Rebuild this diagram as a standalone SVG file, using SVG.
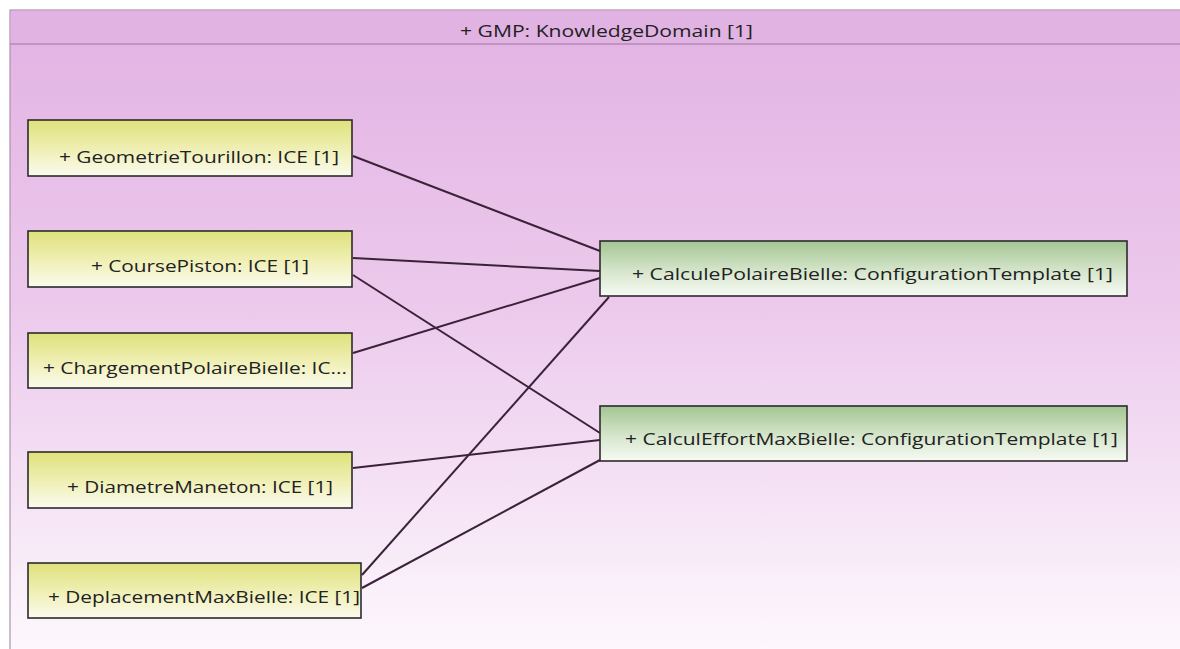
<svg xmlns="http://www.w3.org/2000/svg" width="1180" height="649" viewBox="0 0 1180 649">
<defs>
<linearGradient id="bg" x1="0" y1="0" x2="0" y2="1">
<stop offset="0" stop-color="#e2b2e3"/>
<stop offset="0.45" stop-color="#ecc9ec"/>
<stop offset="1" stop-color="#fdf9fd"/>
</linearGradient>
<linearGradient id="yel" x1="0" y1="0" x2="0" y2="1">
<stop offset="0" stop-color="#dfe17a"/>
<stop offset="0.55" stop-color="#f0f0b8"/>
<stop offset="1" stop-color="#fbfbee"/>
</linearGradient>
<linearGradient id="grn" x1="0" y1="0" x2="0" y2="1">
<stop offset="0" stop-color="#a3c592"/>
<stop offset="0.55" stop-color="#d6e6cc"/>
<stop offset="1" stop-color="#f7faf4"/>
</linearGradient>
<style>
.box{stroke:#2b2b2b;stroke-width:1.6}
.t{font-family:"Open Sans","Noto Sans","DejaVu Sans",sans-serif;font-size:16.5px;fill:#222}
.c{stroke:#3a2238;stroke-width:2;fill:none}
</style>
</defs>
<rect width="1180" height="649" fill="#ffffff"/>
<g id="container">
<rect x="10" y="10" width="1180" height="650" fill="url(#bg)" stroke="#b08fb0" stroke-width="1.2"/>
<rect x="10.6" y="10.6" width="1180" height="33.4" fill="#e1b3e3"/>
<line x1="10" y1="44" x2="1180" y2="44" stroke="#b48ab4" stroke-width="1.5"/>
<text class="t" x="460" y="37" textLength="293" lengthAdjust="spacingAndGlyphs">+ GMP: KnowledgeDomain [1]</text>
</g>
<g id="connectors">
<line class="c" x1="353" y1="156" x2="600" y2="251"/>
<line class="c" x1="353" y1="258" x2="600" y2="271"/>
<line class="c" x1="353" y1="275" x2="600" y2="433"/>
<line class="c" x1="353" y1="353" x2="600" y2="278"/>
<line class="c" x1="353" y1="468" x2="600" y2="440"/>
<line class="c" x1="362" y1="575" x2="609" y2="297"/>
<line class="c" x1="362" y1="588" x2="600" y2="460"/>
</g>
<g id="n-geometrie">
<rect class="box" x="28" y="120" width="324" height="56" fill="url(#yel)"/>
<text class="t" x="59" y="163" textLength="280" lengthAdjust="spacingAndGlyphs">+ GeometrieTourillon: ICE [1]</text>
</g>
<g id="n-course">
<rect class="box" x="28" y="231" width="324" height="56" fill="url(#yel)"/>
<text class="t" x="91" y="272" textLength="218" lengthAdjust="spacingAndGlyphs">+ CoursePiston: ICE [1]</text>
</g>
<g id="n-chargement">
<rect class="box" x="28" y="333" width="324" height="55" fill="url(#yel)"/>
<text class="t" x="43" y="374" textLength="304" lengthAdjust="spacingAndGlyphs">+ ChargementPolaireBielle: IC...</text>
</g>
<g id="n-diametre">
<rect class="box" x="28" y="452" width="324" height="56" fill="url(#yel)"/>
<text class="t" x="67" y="493" textLength="266" lengthAdjust="spacingAndGlyphs">+ DiametreManeton: ICE [1]</text>
</g>
<g id="n-deplacement">
<rect class="box" x="28" y="563" width="333" height="55" fill="url(#yel)"/>
<text class="t" x="48" y="603" textLength="312" lengthAdjust="spacingAndGlyphs">+ DeplacementMaxBielle: ICE [1]</text>
</g>
<g id="n-calculepolaire">
<rect class="box" x="600" y="241" width="527" height="55" fill="url(#grn)"/>
<text class="t" x="632" y="280" textLength="481" lengthAdjust="spacingAndGlyphs">+ CalculePolaireBielle: ConfigurationTemplate [1]</text>
</g>
<g id="n-calculeffort">
<rect class="box" x="600" y="406" width="527" height="55" fill="url(#grn)"/>
<text class="t" x="625" y="445" textLength="493" lengthAdjust="spacingAndGlyphs">+ CalculEffortMaxBielle: ConfigurationTemplate [1]</text>
</g>
</svg>
